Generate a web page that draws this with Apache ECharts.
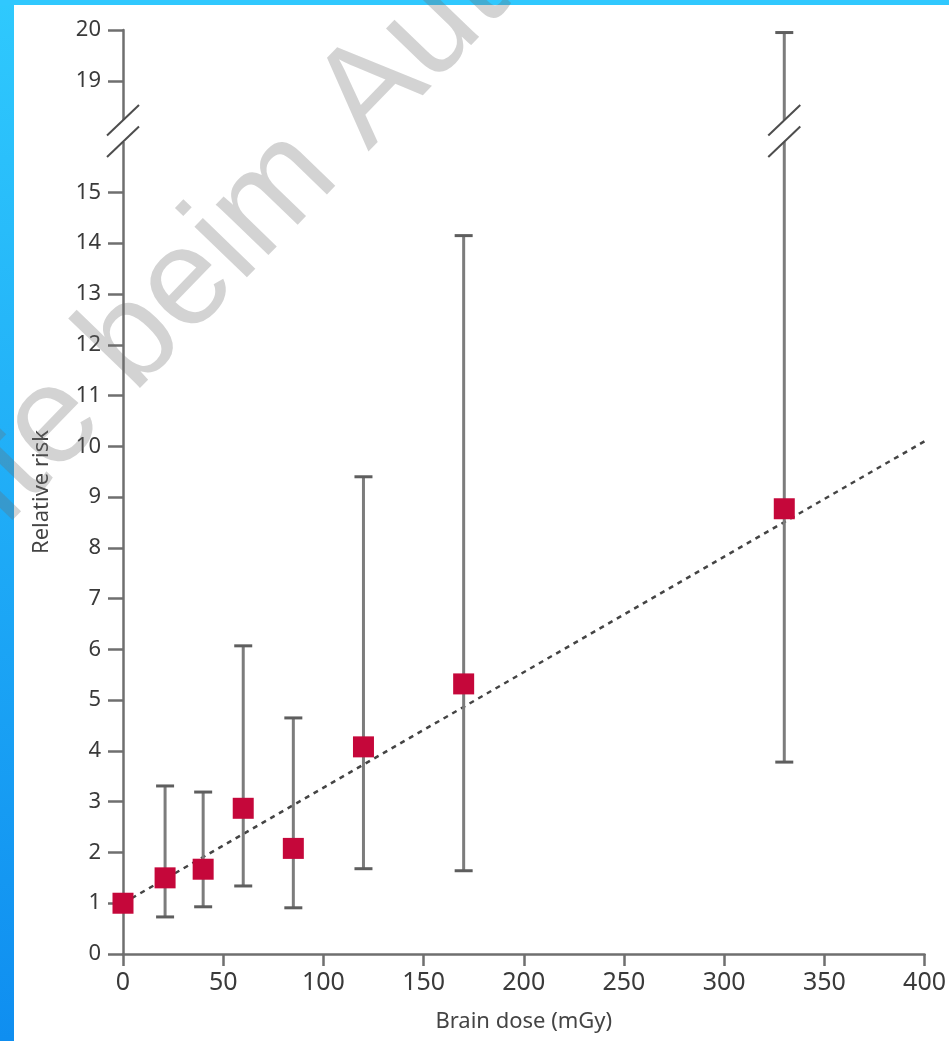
<!DOCTYPE html>
<html>
<head>
<meta charset="utf-8">
<script src="https://cdn.jsdelivr.net/npm/echarts@6/dist/echarts.min.js"></script>
<style>
  html, body { margin: 0; padding: 0; background: #fff; }
  #chart { width: 949px; height: 1041px; }
</style>
</head>
<body>
<div id="chart"></div>
<script>
// dose groups and relative risk
var doses = [0, 21, 40, 60, 85, 120, 170, 330]
var relRisk = [1.0, 1.5, 1.67, 2.87, 2.08, 4.08, 5.32, 8.77]
var ciLow = [null, 0.73, 0.93, 1.34, 0.91, 1.68, 1.64, 3.78]
var ciHigh = [null, 3.31, 3.19, 6.07, 4.65, 9.4, 14.15, 19.95]
// fitted linear trend (dotted)
var fitDose = [0, 400]
var fitRisk = [1.0, 10.1]
var xTicks = [0, 50, 100, 150, 200, 250, 300, 350, 400]
var yTicks = [0, 1, 2, 3, 4, 5, 6, 7, 8, 9, 10, 11, 12, 13, 14, 15, 19, 20]

// broken y axis: 15..19 is squeezed into a short stretch
var BRK_LO = 15, BRK_HI = 19, BRK_SPAN = 2.2
function toAxis(v) {
  if (v <= BRK_LO) return v
  if (v >= BRK_HI) return v - (BRK_HI - BRK_LO - BRK_SPAN)
  return BRK_LO + (v - BRK_LO) * BRK_SPAN / (BRK_HI - BRK_LO)
}
function fromAxis(v) {
  if (v <= BRK_LO) return v
  if (v >= BRK_LO + BRK_SPAN) return v + (BRK_HI - BRK_LO - BRK_SPAN)
  return BRK_LO + (v - BRK_LO) * (BRK_HI - BRK_LO) / BRK_SPAN
}
var breakMarkAt = 17.2   // where the // marks sit
var breakDoses = [0, 330]

var labelFont = "'Noto Sans', 'DejaVu Sans', sans-serif"
var axisGrey = '#6f6f6f'

var points = doses.map((d, i) => [d, toAxis(relRisk[i])])
var bars = []
doses.forEach((d, i) => {
  if (ciLow[i] != null) bars.push([d, toAxis(ciLow[i]), toAxis(ciHigh[i])])
})
var fit = fitDose.map((d, i) => [d, toAxis(fitRisk[i])])
var breaks = breakDoses.map(d => [d, toAxis(breakMarkAt)])

var chart = echarts.init(document.getElementById('chart'))
var option = {
  backgroundColor: '#fff',
  animation: false,
  grid: {
    left: 123,
    right: 18,
    top: 30,
    bottom: 87,
    containLabel: false
  },
  xAxis: {
    type: 'value',
    min: 0,
    max: 400,
    interval: 50,
    name: 'Brain dose (mGy)',
    nameLocation: 'middle',
    nameGap: 57,
    nameTextStyle: { fontFamily: labelFont, fontSize: 22, color: '#444' },
    axisLine: { lineStyle: { color: axisGrey, width: 2.5 } },
    axisTick: { length: 12, lineStyle: { color: axisGrey, width: 2.5 } },
    axisLabel: {
      fontFamily: labelFont,
      fontSize: 25,
      color: '#3a3a3a',
      margin: 16,
      customValues: xTicks
    },
    splitLine: { show: false }
  },
  yAxis: {
    type: 'value',
    min: 0,
    max: toAxis(20),
    name: 'Relative risk',
    nameLocation: 'middle',
    nameGap: 70,
    nameTextStyle: { fontFamily: labelFont, fontSize: 22, color: '#444' },
    axisLine: { lineStyle: { color: axisGrey, width: 2.5 } },
    axisTick: {
      length: 15,
      lineStyle: { color: axisGrey, width: 2.5 },
      customValues: yTicks.map(toAxis)
    },
    axisLabel: {
      fontFamily: labelFont,
      fontSize: 22,
      color: '#3a3a3a',
      margin: 22,
      customValues: yTicks.map(toAxis),
      formatter(v) {
        return String(Math.round(fromAxis(v)))
      }
    },
    splitLine: { show: false }
  },
  series: [
    {
      name: 'trend',
      type: 'line',
      data: fit,
      symbol: 'none',
      z: 2,
      lineStyle: { color: '#444', width: 2.5, type: [5, 5] }
    },
    {
      name: 'ci',
      type: 'custom',
      z: 3,
      data: bars,
      renderItem(params, api) {
        var lo = api.coord([api.value(0), api.value(1)])
        var hi = api.coord([api.value(0), api.value(2)])
        var w = 9
        var st = { stroke: '#7c7c7c', lineWidth: 3 }
        return {
          type: 'group',
          children: [
            { type: 'line', shape: { x1: lo[0], y1: lo[1], x2: hi[0], y2: hi[1] }, style: st },
            { type: 'line', shape: { x1: lo[0] - w, y1: lo[1], x2: lo[0] + w, y2: lo[1] }, style: { stroke: '#5e5e5e', lineWidth: 3 } },
            { type: 'line', shape: { x1: hi[0] - w, y1: hi[1], x2: hi[0] + w, y2: hi[1] }, style: { stroke: '#5e5e5e', lineWidth: 3 } }
          ]
        }
      }
    },
    {
      name: 'breaks',
      type: 'custom',
      z: 4,
      data: breaks,
      renderItem(params, api) {
        var c = api.coord([api.value(0), api.value(1)])
        var st = { stroke: '#4d4d4d', lineWidth: 2 }
        return {
          type: 'group',
          children: [
            { type: 'rect', shape: { x: c[0] - 5, y: c[1] - 11, width: 10, height: 22 }, style: { fill: '#fff' } },
            { type: 'line', shape: { x1: c[0] - 16, y1: c[1] + 4.5, x2: c[0] + 16, y2: c[1] - 26 }, style: st },
            { type: 'line', shape: { x1: c[0] - 16, y1: c[1] + 26, x2: c[0] + 16, y2: c[1] - 4.5 }, style: st }
          ]
        }
      }
    },
    {
      name: 'relative risk',
      type: 'scatter',
      z: 5,
      data: points,
      symbol: 'rect',
      symbolSize: 21,
      itemStyle: { color: '#c5073a', opacity: 1 }
    }
  ],
  graphic: [
    {
      type: 'text',
      z: 100,
      x: 173,
      y: 299,
      rotation: 46 * Math.PI / 180,
      silent: true,
      style: {
        text: 'Rechte beim Autor',
        font: "138px 'Liberation Sans', Arial, sans-serif",
        fill: 'rgba(110,110,110,0.3)',
        align: 'center',
        verticalAlign: 'middle'
      }
    },
    {
      type: 'rect',
      z: 90,
      shape: { x: 0, y: 0, width: 14, height: 1041 },
      style: {
        fill: new echarts.graphic.LinearGradient(0, 0, 0, 1, [
          { offset: 0, color: '#2fc9fd' },
          { offset: 1, color: '#0f8ef0' }
        ])
      }
    },
    {
      type: 'rect',
      z: 90,
      shape: { x: 0, y: 0, width: 949, height: 5 },
      style: { fill: '#30c8fe' }
    }
  ]
}
chart.setOption(option, true)
</script>
</body>
</html>
